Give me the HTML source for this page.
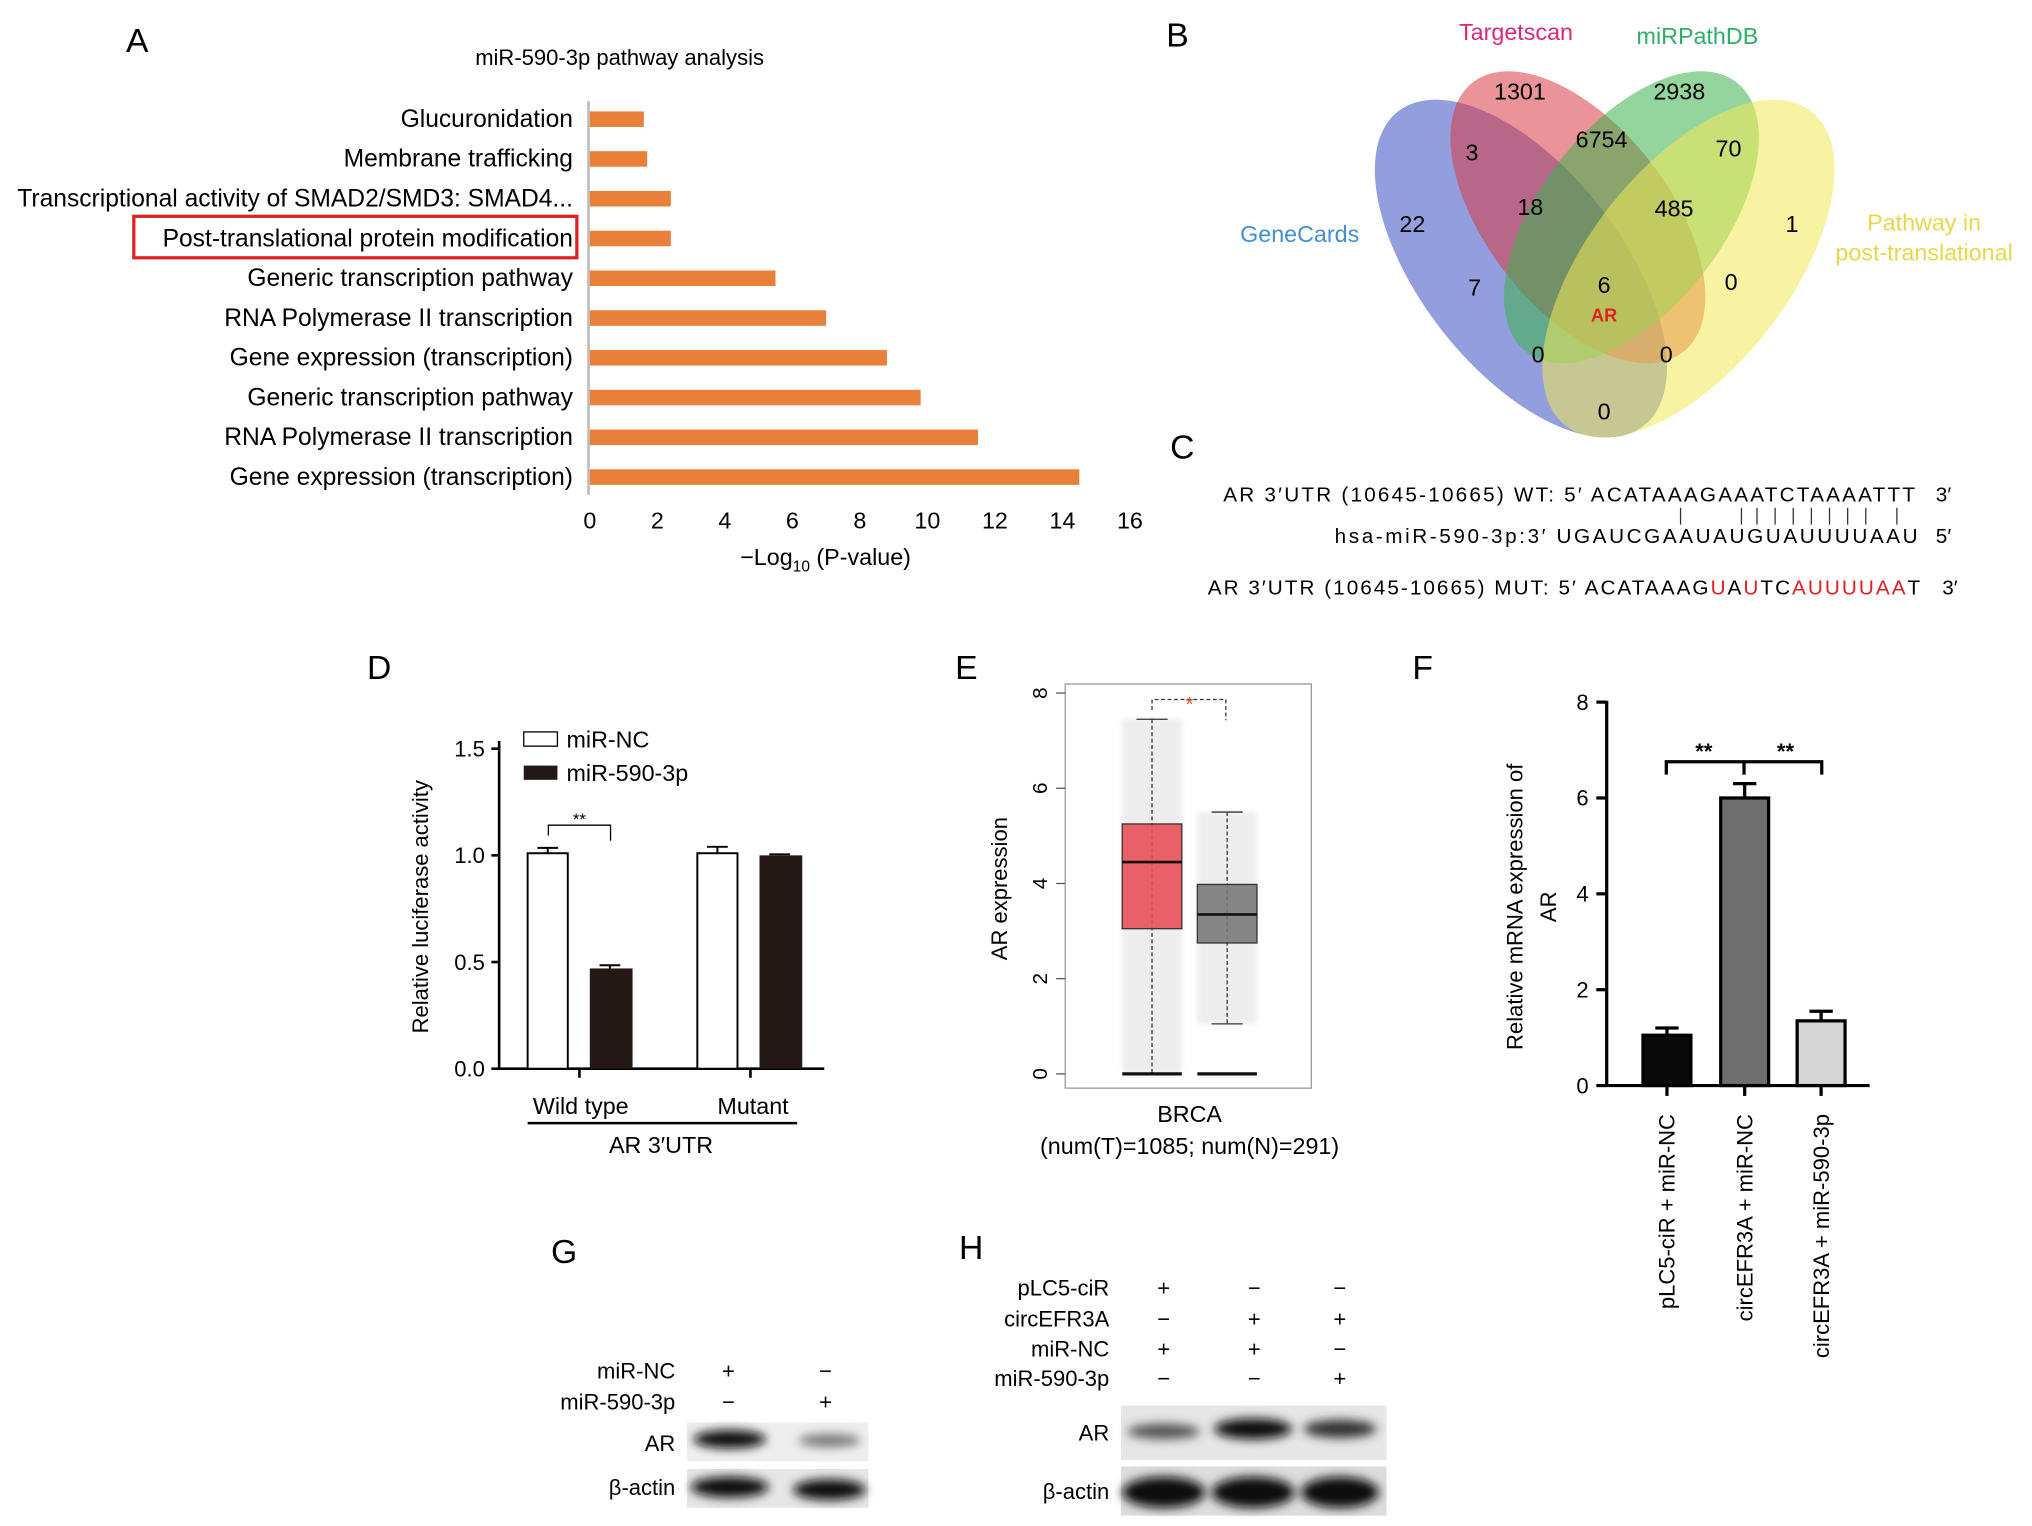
<!DOCTYPE html>
<html><head><meta charset="utf-8"><style>
html,body{margin:0;padding:0;background:#fff}
svg{display:block;font-family:"Liberation Sans",Arial,sans-serif}
</style></head><body>
<svg id="fig" width="2032" height="1526" viewBox="0 0 1568 1178" xmlns="http://www.w3.org/2000/svg">
<defs>
<filter id="blur" x="-30%" y="-100%" width="160%" height="300%"><feGaussianBlur stdDeviation="4"/></filter>
<filter id="blur2"><feGaussianBlur stdDeviation="2"/></filter>
</defs>
<g font-size="26">
<text x="97" y="40">A</text>
<text x="900" y="36">B</text>
<text x="903" y="354">C</text>
<text x="283" y="524">D</text>
<text x="737" y="524">E</text>
<text x="1090" y="524">F</text>
<text x="425" y="975">G</text>
<text x="740" y="972">H</text>
</g>

<!-- Panel A -->
<g id="panelA">
<text x="478" y="50" font-size="17" text-anchor="middle">miR-590-3p pathway analysis</text>
<line x1="454" y1="78" x2="454" y2="382" stroke="#bbb" stroke-width="2"/>
<rect x="103" y="167" width="342" height="32" fill="none" stroke="#e02020" stroke-width="2.5"/>
<text x="637" y="436" font-size="18" text-anchor="middle">−Log<tspan font-size="12" dy="5">10</tspan><tspan dy="-5"> (P-value)</tspan></text>
<g id="aBars"></g><g id="aTicks"></g>
</g>

<!-- Panel B Venn -->
<g>
<g transform="translate(1238 195) scale(0.88) translate(-1238 -211)">
<ellipse cx="1165" cy="225" rx="88" ry="175" transform="rotate(-38 1165 225)" fill="#3a4fc2" fill-opacity="0.55"/>
<ellipse cx="1215" cy="180" rx="80" ry="150" transform="rotate(-38 1215 180)" fill="#d83a44" fill-opacity="0.55"/>
<ellipse cx="1262" cy="180" rx="80" ry="150" transform="rotate(38 1262 180)" fill="#3cb24c" fill-opacity="0.55"/>
<ellipse cx="1312" cy="225" rx="88" ry="175" transform="rotate(38 1312 225)" fill="#f2ea55" fill-opacity="0.55"/>
</g>
<g font-size="18" text-anchor="middle">
<text x="1173" y="77">1301</text><text x="1296" y="77">2938</text>
<text x="1136" y="124">3</text><text x="1236" y="114">6754</text><text x="1334" y="121">70</text>
<text x="1090" y="179">22</text><text x="1181" y="166">18</text><text x="1292" y="167">485</text><text x="1383" y="179">1</text>
<text x="1138" y="228">7</text><text x="1238" y="226">6</text><text x="1336" y="224">0</text>
<text x="1238" y="248" fill="#e02020" font-size="14" font-weight="bold">AR</text>
<text x="1187" y="280">0</text><text x="1286" y="280">0</text><text x="1238" y="324">0</text>
</g>
<text x="1170" y="31" font-size="18" fill="#e0257a" text-anchor="middle">Targetscan</text>
<text x="1310" y="34" font-size="18" fill="#2fae6a" text-anchor="middle">miRPathDB</text>
<text x="1003" y="187" font-size="18" fill="#3f8fd8" text-anchor="middle">GeneCards</text>
<text x="1485" y="178" font-size="18" fill="#e8d74a" text-anchor="middle">Pathway in</text>
<text x="1485" y="201" font-size="18" fill="#e8d74a" text-anchor="middle">post-translational</text>
</g>

<!-- Panel C -->
<g font-size="16">
<text x="944" y="387" textLength="534" lengthAdjust="spacing">AR 3′UTR (10645-10665) WT: 5′ ACATAAAGAAATCTAAAATTT</text>
<text x="1500" y="387" text-anchor="middle">3′</text>
<text x="1030" y="419" textLength="450" lengthAdjust="spacing">hsa-miR-590-3p:3′ UGAUCGAAUAUGUAUUUUAAU</text>
<text x="1500" y="419" text-anchor="middle">5′</text>
<text x="932" y="459" textLength="550" lengthAdjust="spacing">AR 3′UTR (10645-10665) MUT: 5′ ACATAAAG<tspan fill="#e02020">U</tspan>A<tspan fill="#e02020">U</tspan>TC<tspan fill="#e02020">AUUUUAA</tspan>T</text>
<text x="1505" y="459" text-anchor="middle">3′</text>
<g stroke="#333" stroke-width="1"><line x1="1297" y1="392" x2="1297" y2="405"/><line x1="1344" y1="392" x2="1344" y2="405"/><line x1="1356" y1="392" x2="1356" y2="405"/><line x1="1370" y1="392" x2="1370" y2="405"/><line x1="1384" y1="392" x2="1384" y2="405"/><line x1="1398" y1="392" x2="1398" y2="405"/><line x1="1412" y1="392" x2="1412" y2="405"/><line x1="1426" y1="392" x2="1426" y2="405"/><line x1="1440" y1="392" x2="1440" y2="405"/><line x1="1464" y1="392" x2="1464" y2="405"/></g>
</g>

<!-- Panel D -->
<g id="panelD">
<text transform="translate(330 700) rotate(-90)" font-size="17" text-anchor="middle">Relative luciferase activity</text>
<line x1="385" y1="572" x2="385" y2="826" stroke="#000" stroke-width="2"/>
<line x1="385" y1="825" x2="636" y2="825" stroke="#000" stroke-width="2"/>
<rect x="404" y="565" width="26" height="11" fill="#fff" stroke="#000"/>
<text x="437" y="577" font-size="18">miR-NC</text>
<rect x="404" y="591" width="26" height="11" fill="#231815"/>
<text x="437" y="603" font-size="18">miR-590-3p</text>
<path d="M423 645 V637 H471 V649" fill="none" stroke="#000"/>
<text x="447" y="637" font-size="13" text-anchor="middle">**</text>
<text x="448" y="860" font-size="18" text-anchor="middle">Wild type</text>
<text x="581" y="860" font-size="18" text-anchor="middle">Mutant</text>
<line x1="407" y1="867" x2="615" y2="867" stroke="#000" stroke-width="2"/>
<text x="510" y="890" font-size="18" text-anchor="middle">AR 3′UTR</text>
<g id="dMarks"></g>
</g>

<!-- Panel E -->
<g id="panelE">
<rect x="822" y="528" width="190" height="312" fill="none" stroke="#999"/>
<text transform="translate(777 686) rotate(-90)" font-size="17" text-anchor="middle">AR expression</text>
<path d="M889 548 V540 H946 V556" fill="none" stroke="#333" stroke-dasharray="3,2"/>
<text x="918" y="549" font-size="16" fill="#e05a20" text-anchor="middle">*</text>
<text x="918" y="866" font-size="18" text-anchor="middle">BRCA</text>
<text x="918" y="891" font-size="18" text-anchor="middle">(num(T)=1085; num(N)=291)</text>
<g id="eMarks"></g>
</g>

<!-- Panel F -->
<g id="panelF">
<text transform="translate(1175 700) rotate(-90)" font-size="17" text-anchor="middle">Relative mRNA expression of</text>
<text transform="translate(1201 700) rotate(-90)" font-size="17" text-anchor="middle">AR</text>
<line x1="1240" y1="541" x2="1240" y2="839" stroke="#000" stroke-width="2.5"/>
<line x1="1240" y1="838" x2="1443" y2="838" stroke="#000" stroke-width="2.5"/>
<path d="M1286 598 V588 H1406 V598 M1346 588 V598" fill="none" stroke="#000" stroke-width="2.5"/>
<text x="1315" y="586" font-size="17" font-weight="bold" text-anchor="middle">**</text>
<text x="1378" y="586" font-size="17" font-weight="bold" text-anchor="middle">**</text>
<g id="fMarks"></g>
</g>

<!-- Panel G -->
<g font-size="17">
<text x="521" y="1064" text-anchor="end">miR-NC</text><text x="562" y="1064" text-anchor="middle">+</text><text x="637" y="1064" text-anchor="middle">−</text>
<text x="521" y="1088" text-anchor="end">miR-590-3p</text><text x="562" y="1088" text-anchor="middle">−</text><text x="637" y="1088" text-anchor="middle">+</text>
<text x="521" y="1120" text-anchor="end">AR</text><text x="521" y="1154" text-anchor="end">β-actin</text>
<rect x="530" y="1098" width="140" height="30" fill="#eee"/>
<rect x="530" y="1134" width="140" height="30" fill="#e6e6e6"/>
<ellipse cx="563" cy="1111" rx="28" ry="7" fill="#111" filter="url(#blur)"/>
<ellipse cx="640" cy="1112" rx="24" ry="5" fill="#777" filter="url(#blur)"/>
<ellipse cx="563" cy="1148" rx="30" ry="8" fill="#111" filter="url(#blur)"/>
<ellipse cx="640" cy="1150" rx="28" ry="8" fill="#111" filter="url(#blur)"/>
</g>

<!-- Panel H -->
<g font-size="17">
<text x="856" y="1000" text-anchor="end">pLC5-ciR</text><text x="898" y="1000" text-anchor="middle">+</text><text x="968" y="1000" text-anchor="middle">−</text><text x="1034" y="1000" text-anchor="middle">−</text>
<text x="856" y="1024" text-anchor="end">circEFR3A</text><text x="898" y="1024" text-anchor="middle">−</text><text x="968" y="1024" text-anchor="middle">+</text><text x="1034" y="1024" text-anchor="middle">+</text>
<text x="856" y="1047" text-anchor="end">miR-NC</text><text x="898" y="1047" text-anchor="middle">+</text><text x="968" y="1047" text-anchor="middle">+</text><text x="1034" y="1047" text-anchor="middle">−</text>
<text x="856" y="1070" text-anchor="end">miR-590-3p</text><text x="898" y="1070" text-anchor="middle">−</text><text x="968" y="1070" text-anchor="middle">−</text><text x="1034" y="1070" text-anchor="middle">+</text>
<text x="856" y="1112" text-anchor="end">AR</text><text x="856" y="1157" text-anchor="end">β-actin</text>
<rect x="865" y="1085" width="205" height="42" fill="#e6e6e6"/>
<rect x="865" y="1132" width="205" height="38" fill="#ddd"/>
<ellipse cx="898" cy="1105" rx="28" ry="6" fill="#555" filter="url(#blur)"/>
<ellipse cx="967" cy="1103" rx="30" ry="8" fill="#111" filter="url(#blur)"/>
<ellipse cx="1034" cy="1103" rx="28" ry="7" fill="#333" filter="url(#blur)"/>
<ellipse cx="898" cy="1152" rx="32" ry="12" fill="#0a0a0a" filter="url(#blur)"/>
<ellipse cx="967" cy="1152" rx="32" ry="12" fill="#0a0a0a" filter="url(#blur)"/>
<ellipse cx="1034" cy="1152" rx="30" ry="12" fill="#0a0a0a" filter="url(#blur)"/>
</g>
</svg>
<script>
const NS="http://www.w3.org/2000/svg";
function mk(parent,tag,attrs,text){const e=document.createElementNS(NS,tag);for(const k in attrs)e.setAttribute(k,attrs[k]);if(text!==undefined)e.textContent=text;parent.appendChild(e);return e;}

// Panel A data
const aCategories=["Glucuronidation","Membrane trafficking","Transcriptional activity of SMAD2/SMD3: SMAD4...","Post-translational protein modification","Generic transcription pathway","RNA Polymerase II transcription","Gene expression (transcription)","Generic transcription pathway","RNA Polymerase II transcription","Gene expression (transcription)"];
const aValues=[1.6,1.7,2.4,2.4,5.5,7.0,8.8,9.8,11.5,14.5];
const aTicks=[0,2,4,6,8,10,12,14,16];

// Panel D data
const dGroups=["Wild type","Mutant"];
const dNC=[1.01,1.01];
const dMiR=[0.47,1.0];
const dErrNC=[0.025,0.03];
const dErrMiR=[0.015,0.005];
const dTicks=[0.0,0.5,1.0,1.5];

// Panel E data
const eGroups=["Tumor","Normal"];
const eQ1=[3.05,2.75];
const eMedian=[4.45,3.35];
const eQ3=[5.25,3.98];
const eWhiskLo=[0.0,1.05];
const eWhiskHi=[7.45,5.5];
const eTicks=[0,2,4,6,8];

// Panel F data
const fCategories=["pLC5-ciR + miR-NC","circEFR3A + miR-NC","circEFR3A + miR-590-3p"];
const fValues=[1.05,6.0,1.35];
const fErr=[0.15,0.3,0.2];
const fTicks=[0,2,4,6,8];

// Panel A drawing
(function(){
  const x=v=>455+v*26.06;
  const y=i=>92+i*30.7;
  const g=document.getElementById("aBars"), t=document.getElementById("aTicks");
  aValues.forEach((v,i)=>{
    const r=mk(g,"rect",{x:x(0),y:y(i)-6,width:x(v)-x(0),height:12,fill:"#e8803a"});
    
    
    const l=mk(g,"text",{x:442,y:y(i)+6,"font-size":19,"text-anchor":"end"},aCategories[i]);
    
    
  });
  aTicks.forEach(v=>{
    const l=mk(t,"text",{x:x(v),y:408,"font-size":18,"text-anchor":"middle"},String(v));
    
    
  });
})();

// Panel D drawing
(function(){
  const y=v=>825-v*164.7;
  const g=document.getElementById("dMarks");
  const gx=[407,538], w=31, gap=48;
  dTicks.forEach(v=>{
    mk(g,"line",{x1:379,y1:y(v),x2:385,y2:y(v),stroke:"#000","stroke-width":2});
    const l=mk(g,"text",{x:374,y:y(v)+6,"font-size":17,"text-anchor":"end"},v.toFixed(1));
    
    
  });
  dGroups.forEach((_,i)=>{
    const x1=gx[i], x2=gx[i]+gap;
    const b1=mk(g,"rect",{x:x1,y:y(dNC[i]),width:w,height:y(0)-y(dNC[i]),fill:"#fff",stroke:"#000","stroke-width":1.5});
    
    
    mk(g,"path",{d:`M${x1+w/2} ${y(dNC[i])} V${y(dNC[i]+dErrNC[i])} M${x1+w/2-8} ${y(dNC[i]+dErrNC[i])} H${x1+w/2+8}`,stroke:"#000","stroke-width":1.5,fill:"none"});
    const b2=mk(g,"rect",{x:x2,y:y(dMiR[i]),width:w+2,height:y(0)-y(dMiR[i]),fill:"#231815"});
    
    
    mk(g,"path",{d:`M${x2+w/2} ${y(dMiR[i])} V${y(dMiR[i]+dErrMiR[i])} M${x2+w/2-8} ${y(dMiR[i]+dErrMiR[i])} H${x2+w/2+8}`,stroke:"#000","stroke-width":1.5,fill:"none"});
  });
  mk(g,"line",{x1:447,y1:825,x2:447,y2:832,stroke:"#000","stroke-width":2});
  mk(g,"line",{x1:579,y1:825,x2:579,y2:832,stroke:"#000","stroke-width":2});
})();

// Panel E drawing
(function(){
  const y=v=>829-v*36.75;
  const g=document.getElementById("eMarks");
  const cx=[889,947], hw=23, colors=["#e8505a","#7a7a7a"];
  eTicks.forEach(v=>{
    mk(g,"line",{x1:815,y1:y(v),x2:822,y2:y(v),stroke:"#555"});
    const l=mk(g,"text",{transform:`translate(808 ${y(v)}) rotate(-90)`,"font-size":16,"text-anchor":"middle"},String(v));
    
    
  });
  eGroups.forEach((_,i)=>{
    const c=cx[i];
    mk(g,"rect",{x:c-hw,y:y(eWhiskHi[i]),width:hw*2,height:y(eWhiskLo[i])-y(eWhiskHi[i]),fill:"#999","fill-opacity":0.18,filter:"url(#blur2)"});
    mk(g,"line",{x1:c,y1:y(eWhiskHi[i]),x2:c,y2:y(eWhiskLo[i]),stroke:"#333","stroke-dasharray":"3,2"});
    mk(g,"line",{x1:c-12,y1:y(eWhiskHi[i]),x2:c+12,y2:y(eWhiskHi[i]),stroke:"#333"});
    mk(g,"line",{x1:c-12,y1:y(eWhiskLo[i]),x2:c+12,y2:y(eWhiskLo[i]),stroke:"#333"});
    const b=mk(g,"rect",{x:c-hw,y:y(eQ3[i]),width:hw*2,height:y(eQ1[i])-y(eQ3[i]),fill:colors[i],stroke:"#333","fill-opacity":0.9});
    
    
    mk(g,"line",{x1:c-hw,y1:y(eMedian[i]),x2:c+hw,y2:y(eMedian[i]),stroke:"#111","stroke-width":2});
    mk(g,"line",{x1:c-hw,y1:y(0),x2:c+hw,y2:y(0),stroke:"#111","stroke-width":2.5});
  });
})();

// Panel F drawing
(function(){
  const y=v=>838-v*37;
  const g=document.getElementById("fMarks");
  const bx=[1268,1328,1387], w=37, colors=["#0a0a0a","#6e6e6e","#d6d6d6"];
  fTicks.forEach(v=>{
    mk(g,"line",{x1:1232,y1:y(v),x2:1240,y2:y(v),stroke:"#000","stroke-width":2.5});
    const l=mk(g,"text",{x:1226,y:y(v)+6,"font-size":17,"text-anchor":"end"},String(v));
    
    
  });
  fValues.forEach((v,i)=>{
    const c=bx[i]+w/2;
    mk(g,"path",{d:`M${c} ${y(v)} V${y(v+fErr[i])} M${c-9} ${y(v+fErr[i])} H${c+9}`,stroke:"#000","stroke-width":2.5,fill:"none"});
    const b=mk(g,"rect",{x:bx[i],y:y(v),width:w,height:y(0)-y(v),fill:colors[i],stroke:"#000","stroke-width":2.5});
    
    
    mk(g,"line",{x1:c,y1:838,x2:c,y2:846,stroke:"#000","stroke-width":2.5});
    const l=mk(g,"text",{transform:`translate(${c+6} 860) rotate(-90)`,"font-size":17,"text-anchor":"end"},fCategories[i]);
    
    
  });
})();
</script>
</body></html>
